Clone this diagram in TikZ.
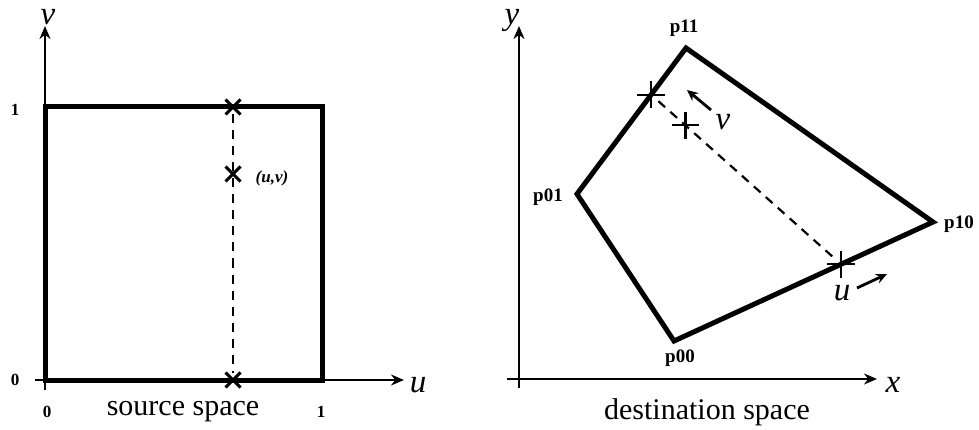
\documentclass[tikz,border=0pt]{standalone}
\usepackage{fontspec}
\setmainfont{Liberation Serif}
\usetikzlibrary{arrows.meta,shapes.misc,calc}
\begin{document}
\begin{tikzpicture}[x=1pt,y=-1pt,
  axis/.style={line width=2.8pt,-{Stealth[length=13pt,width=11pt]}},
  shapeline/.style={line width=5pt,line join=miter},
  guide/.style={line width=2.2pt,dash pattern=on 9pt off 7pt},
  xmark/.style={draw,cross out,line width=3pt,minimum size=12pt,inner sep=0pt},
  pmark/.style={draw,cross out,rotate=45,line width=2.4pt,minimum size=17pt,inner sep=0pt},
  dirarrow/.style={line width=2.8pt,-{Stealth[length=11pt,width=10pt]}},
  axlabel/.style={font=\fontsize{33}{35}\selectfont\itshape,inner sep=0pt},
  caption/.style={font=\fontsize{30}{32}\selectfont,inner sep=0pt},
  tick/.style={font=\fontsize{17}{19}\selectfont\bfseries,inner sep=0pt},
  corner/.style={font=\fontsize{19}{21}\selectfont\bfseries,inner sep=0pt},
  pointlabel/.style={font=\fontsize{17}{19}\selectfont\bfseries\itshape,inner sep=0pt}]
\useasboundingbox (0,0) rectangle (979,430);

% ---------- source space ----------
\coordinate (yb1) at (45,390);
\coordinate (yt1) at (45,26);
\coordinate (xl1) at (35,380);
\coordinate (xr1) at (404,380);
\draw[axis] (yb1) -- (yt1);
\draw[axis] (xl1) -- (xr1);
\coordinate (s00) at (45,380);
\coordinate (s10) at (322,380);
\coordinate (s11) at (322,107);
\coordinate (s01) at (45,107);
\draw[shapeline] (s00) -- (s01) -- (s11) -- (s10) -- cycle;
\node[xmark] (mt) at (233,107) {};
\node[xmark] (mm) at (233,174) {};
\node[xmark] (mb) at (233,380) {};
\draw[guide] (mt) -- (mb);
\node[pointlabel] (uvl) at (272,178) {(u,v)};
\node[axlabel] (vl) at (48,17) {v};
\node[axlabel] (ul) at (418,385) {u};
\node[tick] (t1y) at (15,110) {1};
\node[tick] (t0y) at (15,380) {0};
\node[tick] (t0x) at (47,412) {0};
\node[tick] (t1x) at (321,412) {1};
\node[caption] (src) at (183,412) {source space};

% ---------- destination space ----------
\coordinate (yb2) at (519,388);
\coordinate (yt2) at (519,26);
\coordinate (xl2) at (507,379);
\coordinate (xr2) at (877,379);
\draw[axis] (yb2) -- (yt2);
\draw[axis] (xl2) -- (xr2);
\coordinate (p00) at (674,341);
\coordinate (p10) at (933,222);
\coordinate (p11) at (686,48);
\coordinate (p01) at (577,194);
\draw[shapeline] (p00) -- (p10) -- (p11) -- (p01) -- cycle;
\node[pmark] (qt) at ($(p01)!0.68!(p11)$) {};
\node[pmark] (qb) at ($(p00)!0.645!(p10)$) {};
\node[pmark] (qm) at ($(qb)!0.82!(qt)$) {};
\draw[guide] (qt) -- (qb);
\coordinate (va) at (711,110);
\coordinate (vb) at (687,90);
\draw[dirarrow] (va) -- (vb);
\coordinate (ua) at (857,288);
\coordinate (ub) at (887,274);
\draw[dirarrow] (ua) -- (ub);
\node[axlabel] (vdl) at (723,122) {v};
\node[axlabel] (udl) at (842,293) {u};
\node[corner] (l11) at (684,28) {p11};
\node[corner] (l01) at (548,197) {p01};
\node[corner] (l00) at (680,358) {p00};
\node[corner] (l10) at (959,224) {p10};
\node[axlabel] (yl) at (512,20) {y};
\node[axlabel] (xl) at (893,385) {x};
\node[caption] (dst) at (707,412) {destination space};
\end{tikzpicture}
\end{document}
